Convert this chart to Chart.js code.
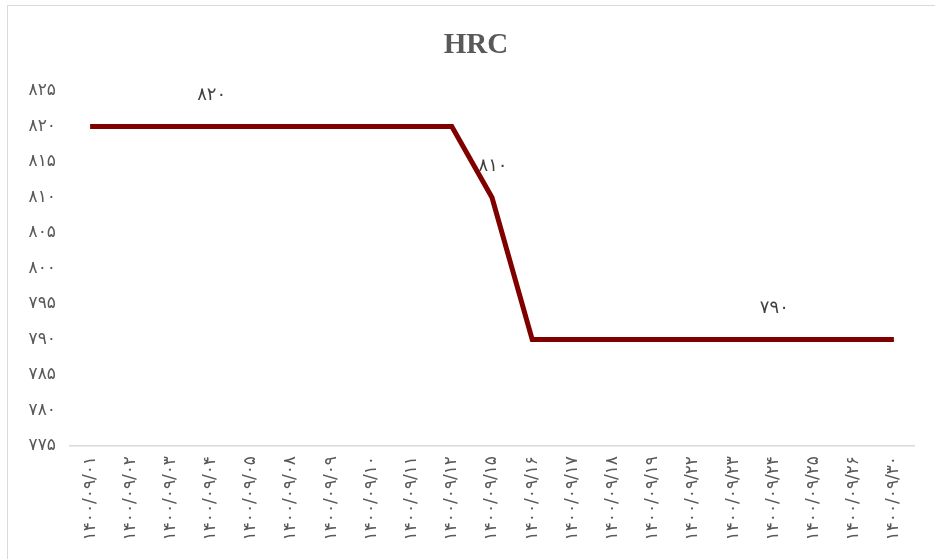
<!DOCTYPE html>
<html>
<head>
<meta charset="utf-8">
<script src="https://cdn.jsdelivr.net/npm/chart.js@4.4.0/dist/chart.umd.min.js"></script>
<style>
html,body{margin:0;padding:0;background:#fff;overflow:hidden;}
#frame{position:absolute;left:7px;top:5px;width:1000px;height:700px;border:1.5px solid #d9d9d9;box-sizing:border-box;}
#wrap{position:absolute;left:0;top:0;width:935px;height:559px;}
</style>
</head>
<body>
<div id="frame"></div>
<div id="wrap"><canvas id="c" width="935" height="559"></canvas></div>
<script>
const chartTitle = 'HRC';
const categories = ['۱۴۰۰/۰۹/۰۱','۱۴۰۰/۰۹/۰۲','۱۴۰۰/۰۹/۰۳','۱۴۰۰/۰۹/۰۴','۱۴۰۰/۰۹/۰۵','۱۴۰۰/۰۹/۰۸','۱۴۰۰/۰۹/۰۹','۱۴۰۰/۰۹/۱۰','۱۴۰۰/۰۹/۱۱','۱۴۰۰/۰۹/۱۲','۱۴۰۰/۰۹/۱۵','۱۴۰۰/۰۹/۱۶','۱۴۰۰/۰۹/۱۷','۱۴۰۰/۰۹/۱۸','۱۴۰۰/۰۹/۱۹','۱۴۰۰/۰۹/۲۲','۱۴۰۰/۰۹/۲۳','۱۴۰۰/۰۹/۲۴','۱۴۰۰/۰۹/۲۵','۱۴۰۰/۰۹/۲۶','۱۴۰۰/۰۹/۳۰'];
const hrcValues = [820,820,820,820,820,820,820,820,820,820,810,790,790,790,790,790,790,790,790,790,790];
const labeledIndices = [3,10,17];
const yMin = 775, yMax = 825, yStep = 5;

const toFa = s => String(s).replace(/[0-9]/g, d => '۰۱۲۳۴۵۶۷۸۹'[d]);
const faFont = "'DejaVu Sans', 'Noto Sans', sans-serif";

const titlePlugin = {
  id: 'offsetTitle',
  afterDraw(chart) {
    const ctx = chart.ctx;
    const a = chart.chartArea;
    ctx.save();
    ctx.font = "bold 29px 'Liberation Serif', 'Times New Roman', serif";
    ctx.fillStyle = '#595959';
    ctx.textAlign = 'center';
    ctx.textBaseline = 'middle';
    ctx.fillText(chartTitle, (a.left + a.right) / 2 - 16, 46);
    ctx.restore();
  }
};

const dataLabelPlugin = {
  id: 'dataLabels',
  afterDatasetsDraw(chart) {
    const ctx = chart.ctx;
    const meta = chart.getDatasetMeta(0);
    ctx.save();
    ctx.font = '18px ' + faFont;
    ctx.fillStyle = '#404040';
    ctx.textAlign = 'center';
    ctx.textBaseline = 'middle';
    labeledIndices.forEach(i => {
      const p = meta.data[i];
      ctx.fillText(toFa(hrcValues[i]), p.x + 1, p.y - 31);
    });
    ctx.restore();
  }
};

new Chart(document.getElementById('c'), {
  type: 'line',
  data: {
    labels: categories,
    datasets: [{
      label: 'HRC',
      data: hrcValues,
      borderColor: '#800000',
      borderWidth: 5,
      pointRadius: 0,
      tension: 0,
      fill: false
    }]
  },
  options: {
    responsive: false,
    animation: false,
    layout: { padding: { left: 0, right: 21, top: 91, bottom: 0 } },
    plugins: {
      legend: { display: false },
      tooltip: { enabled: false },
      title: { display: false }
    },
    scales: {
      x: {
        offset: true,
        grid: { display: false, drawTicks: false },
        border: { display: true, color: '#d9d9d9', width: 1.5 },
        ticks: {
          autoSkip: false,
          maxRotation: 90,
          minRotation: 90,
          padding: 10,
          color: '#595959',
          font: { family: faFont, size: 17 }
        },
        afterFit(scale) { scale.height = 113; }
      },
      y: {
        min: yMin,
        max: yMax,
        grid: { display: false, drawTicks: false },
        border: { display: false },
        ticks: {
          stepSize: yStep,
          padding: 14,
          color: '#595959',
          font: { family: faFont, size: 17 },
          callback: v => toFa(v)
        },
        afterFit(scale) { scale.width = 70; }
      }
    }
  },
  plugins: [dataLabelPlugin, titlePlugin]
});
</script>
</body>
</html>
